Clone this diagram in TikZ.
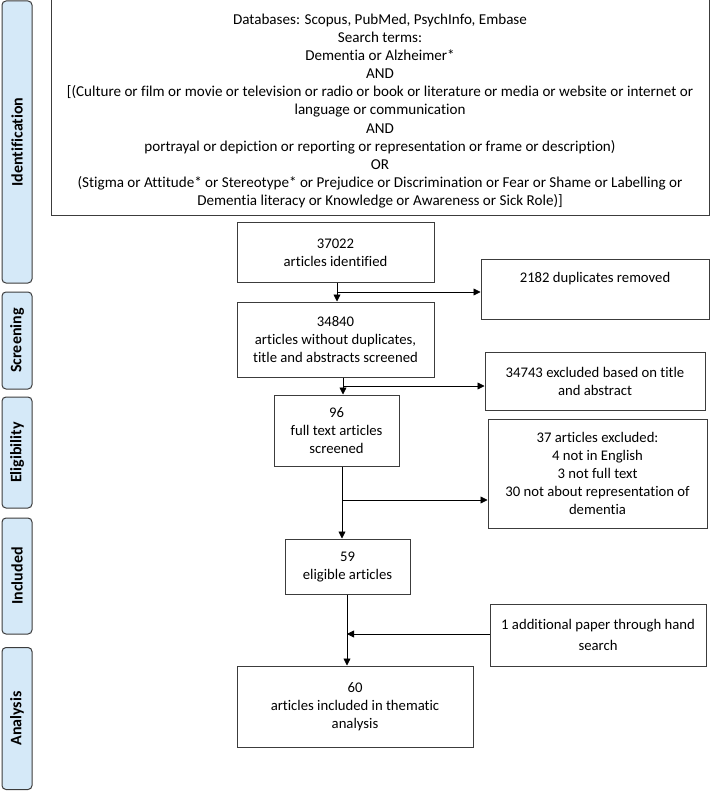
\documentclass[tikz,border=0pt]{standalone}
\usepackage{fontspec}
\setmainfont{Carlito}[Ligatures=CommonOff]
\usetikzlibrary{arrows.meta}
\definecolor{phasefill}{HTML}{D5E9F8}
\definecolor{boxline}{HTML}{3C3C3C}
\tikzset{
  box/.style={draw=boxline, line width=1pt, inner sep=0pt, align=center, font=\fontsize{14.7}{18}\selectfont},
  phase/.style={draw=boxline, line width=1pt, fill=phasefill, rounded corners=4pt, rotate=90, inner sep=0pt, minimum height=30pt, font=\fontsize{16}{18}\selectfont\bfseries},
  arr/.style={draw=black, line width=0.8pt, -{Triangle[length=7pt,width=7pt]}}
}
\begin{document}
\begin{tikzpicture}[x=1pt,y=-1pt]
\useasboundingbox (0,0) rectangle (710,791);
% phases
\node[phase, minimum width=282] (pI) at (17,142) {Identification};
\node[phase, minimum width=97] (pS) at (17,340.5) {Screening};
\node[phase, minimum width=111] (pE) at (17,452.5) {Eligibility};
\node[phase, minimum width=116] (pIn) at (17,576) {Included};
\node[phase, minimum width=142] (pA) at (17,718.5) {Analysis};
% top box
\node[box, minimum width=658, minimum height=216] (top) at (380,108) {};
\node[align=center, inner sep=0pt, font=\fontsize{15.1}{18.1}\selectfont] (toptext) at (380,111) {Databases: Scopus, PubMed, PsychInfo, Embase\\
Search terms:\\
Dementia or Alzheimer*\\
AND\\
{[}(Culture or film or movie or television or radio or book or literature or media or website or internet or\\
language or communication\\
AND\\
portrayal or depiction or reporting or representation or frame or description)\\
OR\\
(Stigma or Attitude* or Stereotype* or Prejudice or Discrimination or Fear or Shame or Labelling or\\
Dementia literacy or Knowledge or Awareness or Sick Role)]};
% main boxes
\node[box, minimum width=197, minimum height=59] (b1) at (335.5,252.5) {37022\\articles identified};
\node[box, minimum width=228, minimum height=59] (d1) at (595,289.5) {2182 duplicates removed\\\strut};
\node[box, minimum width=197, minimum height=75] (b2) at (335.5,339.5) {34840\\articles without duplicates,\\title and abstracts screened};
\node[box, minimum width=220, minimum height=58] (d2) at (595,381) {34743 excluded based on title\\and abstract};
\node[box, minimum width=125, minimum height=71] (b3) at (336.5,430.5) {96\\full text articles\\screened};
\node[box, minimum width=219, minimum height=109] (d3) at (597.5,473.5) {37 articles excluded:\\4 not in English\\3 not full text\\30 not about representation of\\dementia};
\node[box, minimum width=125, minimum height=55] (b4) at (347.5,566.5) {59\\eligible articles};
\node[box, minimum width=216, minimum height=62, font=\fontsize{14.7}{21}\selectfont] (d4) at (598,635) {1 additional paper through hand\\search};
\node[box, minimum width=236, minimum height=81] (b5) at (355,706.5) {60\\articles included in thematic\\analysis};
% connectors
\coordinate (j1) at (337,292);
\coordinate (j2) at (343,386);
\coordinate (j3) at (342,500);
\coordinate (j4) at (347,634);
\draw[arr] (j1 |- b1.south) -- (j1 |- b2.north);
\draw[arr] (j1) -- (j1 -| d1.west);
\draw[arr] (j2 |- b2.south) -- (j2 |- b3.north);
\draw[arr] (j2) -- (j2 -| d2.west);
\draw[arr] (j3 |- b3.south) -- (j3 |- b4.north);
\draw[arr] (j3) -- (j3 -| d3.west);
\draw[arr] (j4 |- b4.south) -- (j4 |- b5.north);
\draw[arr] (j4 -| d4.west) -- (j4);
\end{tikzpicture}
\end{document}
